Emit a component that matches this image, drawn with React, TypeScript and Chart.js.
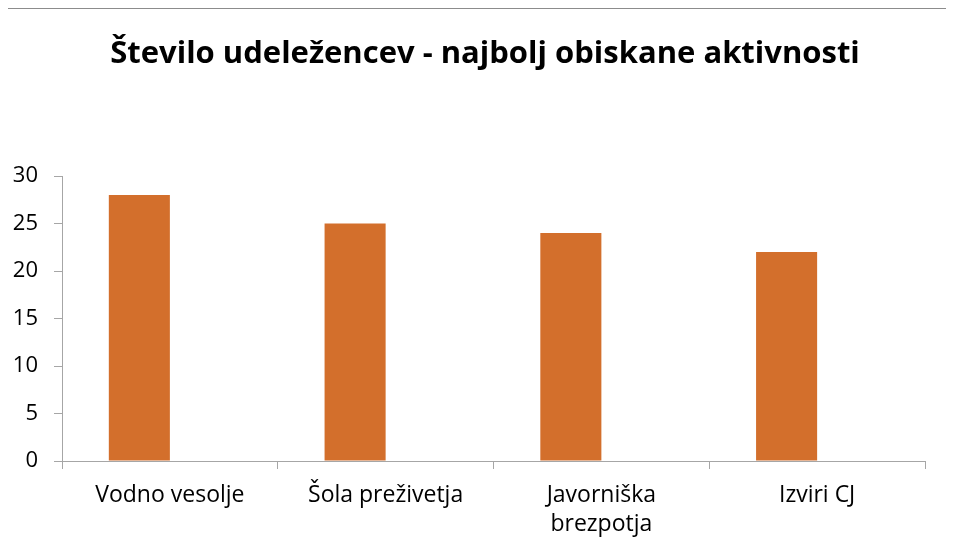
import React, { useEffect, useRef } from "react";
import { Chart, registerables } from "chart.js";

Chart.register(...registerables);

const categories: (string | string[])[] = [
  "Vodno vesolje",
  "Šola preživetja",
  ["Javorniška", "brezpotja"],
  "Izviri CJ",
];
const participants = [28, 25, 24, 22];
const emptySeries: (number | null)[] = [null, null, null, null];
const yTicks = [0, 5, 10, 15, 20, 25, 30];
const title = "Število udeležencev - najbolj obiskane aktivnosti";

export default function App() {
  const ref = useRef<HTMLCanvasElement | null>(null);
  useEffect(() => {
    if (!ref.current) return;
    const axisColor = "#A6A6A6";
    const chart = new Chart(ref.current, {
      type: "bar",
      data: {
        labels: categories,
        datasets: [
          {
            label: "Udeleženci",
            data: participants,
            backgroundColor: "#D36F2C",
            categoryPercentage: 0.566,
            barPercentage: 1,
          },
          {
            label: "",
            data: emptySeries,
            backgroundColor: "#A5A5A5",
            categoryPercentage: 0.566,
            barPercentage: 1,
          },
        ],
      },
      options: {
        animation: false,
        responsive: true,
        maintainAspectRatio: false,
        layout: { padding: { left: 0, right: 29, top: 176, bottom: 0 } },
        plugins: {
          legend: { display: false },
          tooltip: { enabled: false },
          title: { display: false },
        },
        scales: {
          x: {
            offset: true,
            grid: {
              offset: true,
              drawOnChartArea: false,
              drawTicks: true,
              tickLength: 8,
              color: axisColor,
            },
            border: { display: true, color: axisColor, width: 1 },
            ticks: {
              color: "#000000",
              font: { family: "Open Sans", size: 23, lineHeight: 1.25 },
              padding: 12,
              maxRotation: 0,
              autoSkip: false,
            },
            afterFit: (s: any) => {
              s.height = 94;
            },
          },
          y: {
            min: 0,
            max: 30,
            afterBuildTicks: (s: any) => {
              s.ticks = yTicks.map((v) => ({ value: v }));
            },
            grid: {
              drawOnChartArea: false,
              drawTicks: true,
              tickLength: 8,
              color: axisColor,
            },
            border: { display: true, color: axisColor, width: 1 },
            ticks: {
              color: "#000000",
              font: { family: "Open Sans", size: 22 },
              padding: 16,
            },
            afterFit: (s: any) => {
              s.width = 62;
            },
          },
        },
      },
    });
    return () => chart.destroy();
  }, []);
  return (
    <div
      style={{
        width: 954,
        height: 555,
        margin: -8,
        position: "relative",
        background: "#fff",
        overflow: "hidden",
      }}
    >
      <canvas ref={ref} />
      <div
        style={{
          position: "absolute",
          left: 6,
          top: 8,
          width: 960,
          height: 560,
          borderLeft: "2px solid #A6A6A6",
          borderTop: "1px solid #8C8C8C",
          pointerEvents: "none",
        }}
      />
      <div
        style={{
          position: "absolute",
          left: 16,
          top: 33,
          width: 938,
          textAlign: "center",
          whiteSpace: "nowrap",
          fontFamily: "'Open Sans', sans-serif",
          fontWeight: 700,
          fontSize: 31,
          lineHeight: 1.2,
          color: "#000000",
        }}
      >
        {title}
      </div>
    </div>
  );
}
